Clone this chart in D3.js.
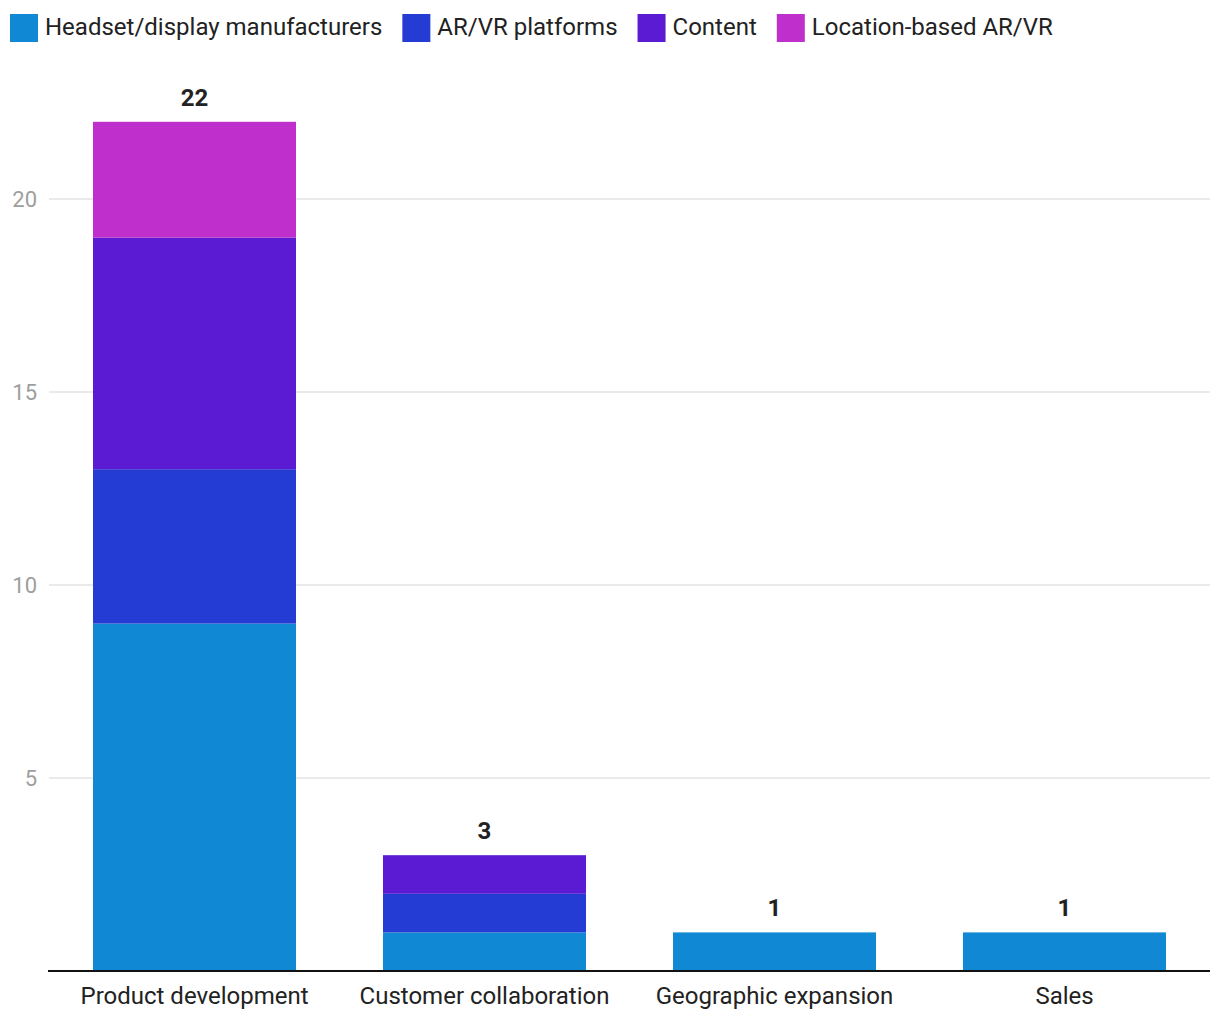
<!DOCTYPE html>
<html><head><meta charset="utf-8">
<script src="https://cdn.jsdelivr.net/npm/d3@7"></script>
<style>body{margin:0;background:#fff;font-family:Roboto,"Noto Sans",sans-serif}</style>
</head><body><svg id="c" width="1220" height="1020"></svg>
<script>
const categories = ["Product development","Customer collaboration","Geographic expansion","Sales"];
const seriesNames = ["Headset/display manufacturers","AR/VR platforms","Content","Location-based AR/VR"];
const headset = [9,1,1,1];
const arvr = [4,1,0,0];
const content = [6,1,0,0];
const locationBased = [3,0,0,0];
const yTicks = [5,10,15,20];
const colors = ["#1188d4","#243bd4","#5a1bd2","#bf2fcb"];

const svg = d3.select("#c");
const x = d3.scaleBand().domain(categories).range([49.5,1209.5]).paddingInner(0.3).paddingOuter(0.15);
const y = d3.scaleLinear().domain([0,25]).range([971,971-25*38.6]);

const rows = categories.map((c,i)=>({cat:c, [seriesNames[0]]:headset[i],[seriesNames[1]]:arvr[i],[seriesNames[2]]:content[i],[seriesNames[3]]:locationBased[i]}));
const stack = d3.stack().keys(seriesNames)(rows);

// grid
const yAxis = d3.axisLeft(y).tickValues(yTicks).tickSize(0).tickPadding(0);
const ga = svg.append("g").attr("transform","translate(37,0.5)").call(yAxis);
ga.select(".domain").remove();
ga.selectAll("text").attr("fill","#9e9e9e").style("font-size","22px").style("font-family","Roboto");
svg.append("g").selectAll("line").data(yTicks).join("line")
 .attr("x1",49).attr("x2",1210).attr("y1",d=>y(d)).attr("y2",d=>y(d))
 .attr("stroke","#e3e3e3").attr("stroke-width",1.5);

// bars
svg.append("g").selectAll("g").data(stack).join("g").attr("fill",(d,i)=>colors[i])
 .selectAll("rect").data(d=>d.filter(s=>s[1]>s[0])).join("rect")
 .attr("x",d=>x(d.data.cat)).attr("width",x.bandwidth())
 .attr("y",d=>y(d[1])).attr("height",d=>y(d[0])-y(d[1]));

// totals
const totals = categories.map((c,i)=>headset[i]+arvr[i]+content[i]+locationBased[i]);
svg.append("g").selectAll("text").data(categories).join("text")
 .attr("x",d=>x(d)+x.bandwidth()/2).attr("y",(d,i)=>y(totals[i])-16)
 .attr("text-anchor","middle").attr("font-weight","bold").attr("font-size","24px")
 .attr("fill","#222").style("font-family","Roboto").text((d,i)=>totals[i]);

// x axis
const xAxis = d3.axisBottom(x).tickSize(0).tickPadding(16);
const gx = svg.append("g").attr("transform","translate(0,971)").call(xAxis);
gx.select(".domain").attr("stroke","#111").attr("stroke-width",2).attr("d","M48,0H1210");
gx.selectAll("text").attr("fill","#222").style("font-size","24px").style("font-family","Roboto");

// legend
const lg = svg.append("g");
let lx = 10;
seriesNames.forEach((n,i)=>{
  lg.append("rect").attr("x",lx).attr("y",14).attr("width",28).attr("height",28).attr("fill",colors[i]);
  const t = lg.append("text").attr("x",lx+35).attr("y",34.5).attr("font-size","24px").attr("fill","#222")
   .style("font-family","Roboto").text(n);
  lx += 35 + t.node().getComputedTextLength() + 20;
});
</script></body></html>
